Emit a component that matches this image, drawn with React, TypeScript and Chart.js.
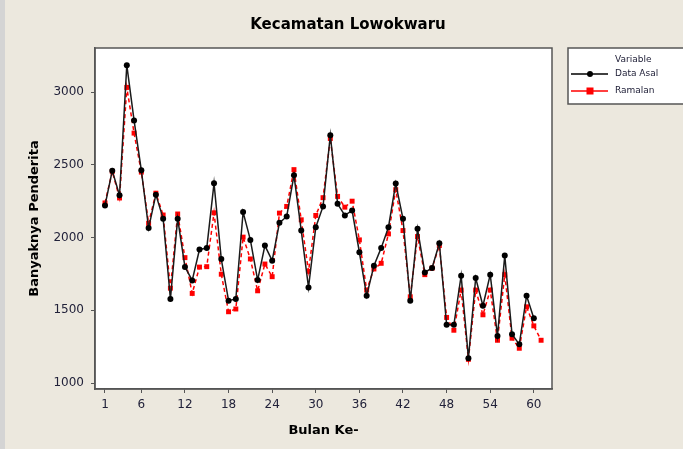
import React, { useEffect, useRef } from "react";
import { Chart, registerables } from "chart.js";

Chart.register(...registerables);

const title = "Kecamatan Lowokwaru";
const xTitle = "Bulan Ke-";
const yTitle = "Banyaknya Penderita";
const legendTitle = "Variable";
const seriesNames = ["Data Asal", "Ramalan"];
const xTickValues = [1, 6, 12, 18, 24, 30, 36, 42, 48, 54, 60];
const yTickValues = [1000, 1500, 2000, 2500, 3000];

const dataAsal = [
  2220, 2460, 2290, 3185, 2805, 2462, 2065, 2295, 2130, 1578,
  2130, 1798, 1705, 1918, 1928, 2373, 1852, 1566, 1578, 2175,
  1984, 1708, 1945, 1841, 2101, 2145, 2428, 2048, 1657, 2071,
  2214, 2703, 2232, 2152, 2186, 1899, 1600, 1807, 1929, 2071,
  2372, 2129, 1566, 2060, 1760, 1791, 1961, 1400, 1400, 1738,
  1170, 1722, 1531, 1745, 1324, 1876, 1335, 1266, 1600, 1446,
];
const ramalan = [
  2238, 2455, 2272, 3032, 2718, 2450, 2098, 2305, 2155, 1652,
  2162, 1862, 1616, 1797, 1800, 2170, 1748, 1490, 1509, 2003,
  1853, 1634, 1818, 1731, 2168, 2214, 2467, 2122, 1768, 2152,
  2274, 2681, 2283, 2209, 2250, 1984, 1639, 1784, 1823, 2025,
  2329, 2048, 1593, 2007, 1745, 1790, 1945, 1451, 1363, 1639,
  1163, 1639, 1469, 1639, 1294, 1745, 1308, 1239, 1524, 1393,
  1294,
];

const W = 683;
const H = 449;
const BG = "#ece8de";
const TICK_COLOR = "#22223a";

const decorPlugin = {
  id: "decor",
  beforeDraw(chart: any) {
    const { ctx, chartArea } = chart;
    const { left, right, top, bottom } = chartArea;
    ctx.save();
    ctx.fillStyle = BG;
    ctx.fillRect(0, 0, W, H);
    ctx.fillStyle = "#d4d4d4";
    ctx.fillRect(0, 0, 5, H);
    ctx.fillStyle = "#ffffff";
    ctx.fillRect(left, top, right - left, bottom - top);
    ctx.restore();
  },
  afterDraw(chart: any) {
    const { ctx, chartArea } = chart;
    const { left, right, top, bottom } = chartArea;
    ctx.save();
    // plot frame
    ctx.strokeStyle = "#555555";
    ctx.lineWidth = 1.5;
    ctx.strokeRect(left, top, right - left, bottom - top);
    // title
    ctx.fillStyle = "#000000";
    ctx.font = "bold 15px 'DejaVu Sans'";
    ctx.textAlign = "center";
    ctx.textBaseline = "middle";
    ctx.fillText(title, 348, 25);
    // legend box
    const lx = 568, ly = 48, lw = 116, lh = 56;
    ctx.fillStyle = "#ffffff";
    ctx.fillRect(lx, ly, lw, lh);
    ctx.strokeStyle = "#555555";
    ctx.lineWidth = 1.5;
    ctx.strokeRect(lx, ly, lw, lh);
    ctx.fillStyle = "#22223a";
    ctx.font = "9px 'DejaVu Sans'";
    ctx.textAlign = "left";
    ctx.fillText(legendTitle, 615, 60);
    ctx.fillText(seriesNames[0], 615, 74);
    ctx.fillText(seriesNames[1], 615, 91);
    // legend samples
    ctx.strokeStyle = "#000000";
    ctx.lineWidth = 1.5;
    ctx.beginPath();
    ctx.moveTo(571, 74);
    ctx.lineTo(608, 74);
    ctx.stroke();
    ctx.fillStyle = "#000000";
    ctx.beginPath();
    ctx.arc(590, 74, 3, 0, Math.PI * 2);
    ctx.fill();
    ctx.strokeStyle = "#ff0000";
    ctx.beginPath();
    ctx.moveTo(571, 91);
    ctx.lineTo(608, 91);
    ctx.stroke();
    ctx.fillStyle = "#ff0000";
    ctx.fillRect(586.5, 87.5, 7, 7);
    ctx.restore();
  },
};

export default function App() {
  const ref = useRef<HTMLCanvasElement | null>(null);

  useEffect(() => {
    document.body.style.margin = "0";
    const canvas = ref.current;
    if (!canvas) return;
    const chart = new Chart(canvas, {
      type: "line",
      data: {
        datasets: [
          {
            label: seriesNames[0],
            data: dataAsal.map((v, i) => ({ x: i + 1, y: v })),
            borderColor: "#1a1a1a",
            backgroundColor: "#000000",
            borderWidth: 1.5,
            pointStyle: "circle",
            pointRadius: 3,
            pointBorderWidth: 0,
            tension: 0,
          },
          {
            label: seriesNames[1],
            data: ramalan.map((v, i) => ({ x: i + 1, y: v })),
            borderColor: "#ff0000",
            backgroundColor: "#ff0000",
            borderWidth: 1.5,
            borderDash: [4, 3],
            pointStyle: "rect",
            pointRadius: 3.5,
            pointBorderWidth: 0,
            tension: 0,
          },
        ],
      },
      options: {
        responsive: false,
        animation: false,
        events: [],
        layout: { padding: { left: 0, top: 48, right: W - 552, bottom: 0 } },
        plugins: {
          legend: { display: false },
          title: { display: false },
          tooltip: { enabled: false },
        },
        scales: {
          x: {
            type: "linear",
            min: -0.375,
            max: 62.5,
            afterFit: (s: any) => {
              s.height = H - 389;
            },
            afterBuildTicks: (s: any) => {
              s.ticks = xTickValues.map((v) => ({ value: v }));
            },
            grid: {
              drawOnChartArea: false,
              drawTicks: true,
              tickLength: 4,
              color: "#555555",
            },
            border: { display: true, color: "#555555", width: 1.5 },
            ticks: {
              color: TICK_COLOR,
              font: { family: "'DejaVu Sans'", size: 12 },
              padding: 5,
              maxRotation: 0,
              autoSkip: false,
              callback: (v: any) => String(v),
            },
            title: {
              display: true,
              text: xTitle,
              color: "#000000",
              font: { family: "'DejaVu Sans'", size: 13, weight: "bold" },
              padding: { top: 0, bottom: 11 },
            },
          },
          y: {
            type: "linear",
            min: 959,
            max: 3303,
            afterFit: (s: any) => {
              s.width = 95;
            },
            afterBuildTicks: (s: any) => {
              s.ticks = yTickValues.map((v) => ({ value: v }));
            },
            grid: {
              drawOnChartArea: false,
              drawTicks: true,
              tickLength: 4,
              color: "#555555",
            },
            border: { display: true, color: "#555555", width: 1.5 },
            ticks: {
              color: TICK_COLOR,
              font: { family: "'DejaVu Sans'", size: 12 },
              padding: 7,
              callback: (v: any) => String(v),
            },
            title: {
              display: true,
              text: yTitle,
              color: "#000000",
              font: { family: "'DejaVu Sans'", size: 13, weight: "bold" },
              padding: { top: 27, bottom: 0 },
            },
          },
        },
      },
      plugins: [decorPlugin],
    });
    return () => chart.destroy();
  }, []);

  return (
    <div
      style={{
        position: "fixed",
        left: 0,
        top: 0,
        width: W,
        height: H,
        background: BG,
        overflow: "hidden",
      }}
    >
      <canvas
        ref={ref}
        width={W}
        height={H}
        style={{ position: "absolute", left: 0, top: 0, width: W, height: H }}
      />
    </div>
  );
}
